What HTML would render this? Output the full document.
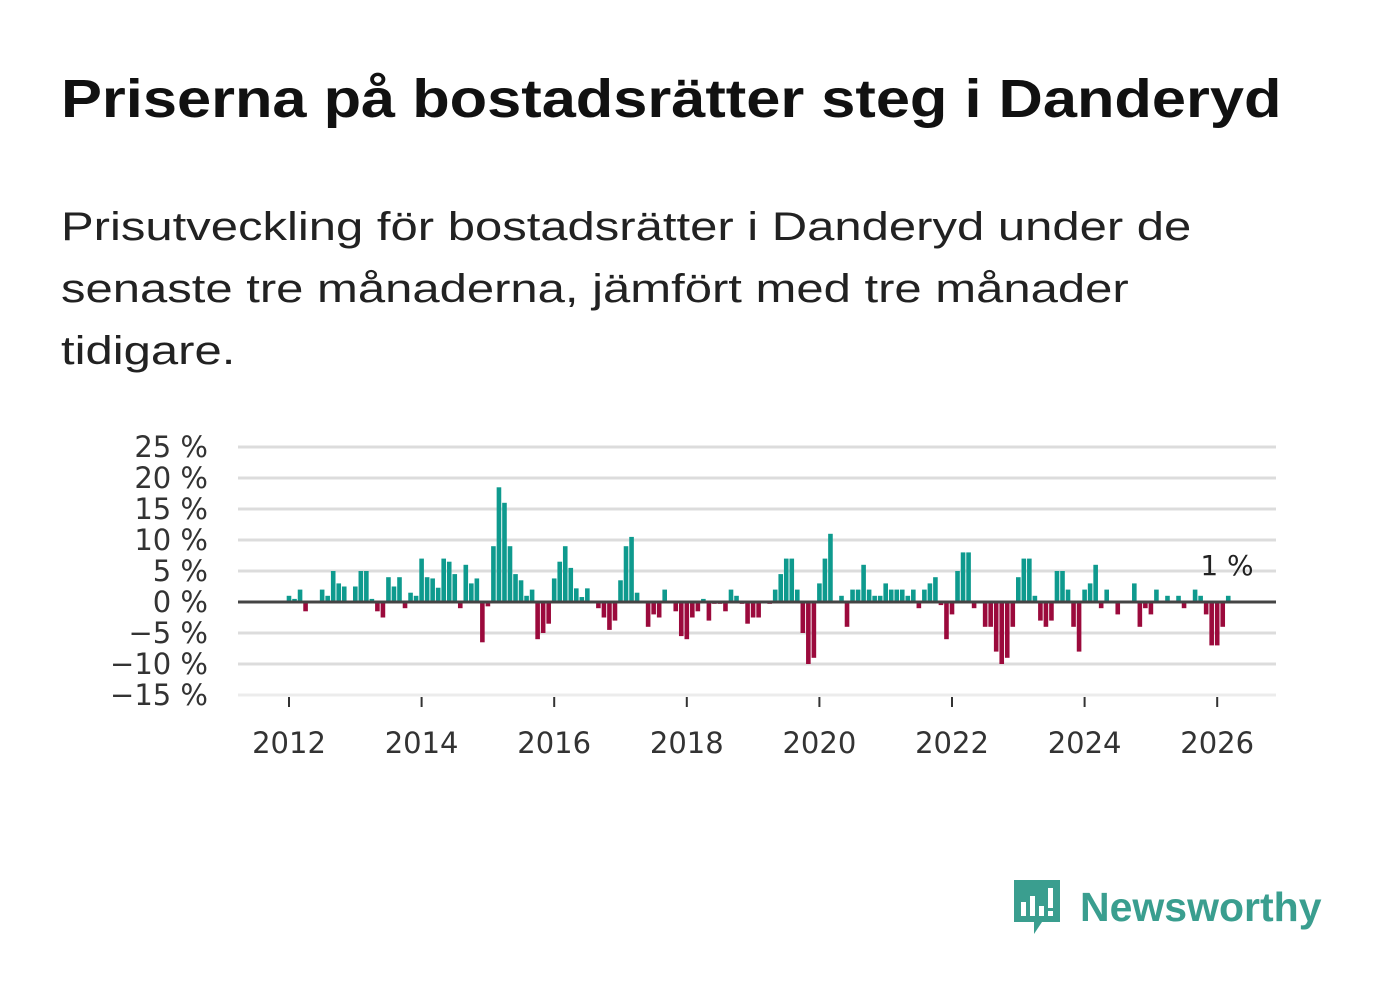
<!DOCTYPE html>
<html><head><meta charset="utf-8"><style>
body{margin:0;width:1382px;height:999px;background:#fff;font-family:"Liberation Sans",sans-serif;overflow:hidden;position:relative}
h1{position:absolute;left:61px;top:68px;margin:0;font-size:54px;font-weight:bold;color:#111;white-space:nowrap;transform:scaleX(1.136);transform-origin:left top}
p{position:absolute;left:61px;top:196px;margin:0;font-size:40px;line-height:62px;color:#222;white-space:nowrap;transform:scaleX(1.225);transform-origin:left top}
</style></head><body>
<h1>Priserna på bostadsrätter steg i Danderyd</h1>
<p>Prisutveckling för bostadsrätter i Danderyd under de<br>senaste tre månaderna, jämfört med tre månader<br>tidigare.</p>
<svg id="chart" width="1382" height="999" style="position:absolute;left:0;top:0"></svg>
<div style="position:absolute;left:1012px;top:878px;height:58px;display:flex;align-items:center">
<svg width="50" height="58"><path d="M2 2h46v42H30l-8 12v-12H2z" fill="#3a9e8f"/><rect x="9" y="24" width="5" height="14" fill="#fff"/><rect x="18" y="18" width="5" height="20" fill="#fff"/><rect x="27" y="28" width="5" height="10" fill="#fff"/><rect x="36" y="10" width="5" height="20" fill="#fff"/><rect x="36" y="33" width="5" height="5" fill="#fff"/></svg>
<span style="font-size:41px;font-weight:bold;color:#3a9e8f;margin-left:18px">Newsworthy</span></div>
<script>
const values=[1,0.5,2,-1.5,0,0,2,1,5,3,2.5,0,2.5,5,5,0.5,-1.5,-2.5,4,2.5,4,-1,1.5,1,7,4,3.8,2.3,7,6.5,4.5,-1,6,3,3.8,-6.5,-0.7,9,18.5,16,9,4.5,3.5,1,2,-6,-5,-3.5,3.8,6.5,9,5.5,2.2,0.8,2.2,0,-1,-2.5,-4.5,-3,3.5,9,10.5,1.5,0,-4,-2,-2.5,2,0,-1.5,-5.5,-6,-2.5,-1.5,0.5,-3,-0.3,-0.3,-1.5,2,1,-0.3,-3.5,-2.5,-2.5,0,-0.3,2,4.5,7,7,2,-5,-10,-9,3,7,11,0,1,-4,2,2,6,2,1,1,3,2,2,2,1,2,-1,2,3,4,-0.5,-6,-2,5,8,8,-1,0,-4,-4,-8,-10,-9,-4,4,7,7,1,-3,-4,-3,5,5,2,-4,-8,2,3,6,-1,2,0,-2,0,0,3,-4,-1,-2,2,0,1,0,1,-1,0,2,1,-2,-7,-7,-4,1];
const startYear=2012;
const yTicks=[25,20,15,10,5,0,-5,-10,-15];
const xTicks=[2012,2014,2016,2018,2020,2022,2024,2026];
const lastLabel="1 %";
const svg=document.getElementById('chart');const NS='http://www.w3.org/2000/svg';
const X=t=>289+(t-2012)*66.3, Y=v=>602-v*6.2;
function mk(tag,a){const e=document.createElementNS(NS,tag);for(const k in a)e.setAttribute(k,a[k]);svg.appendChild(e);return e;}
const FF='DejaVu Sans, sans-serif';
yTicks.forEach(v=>{const g=mk('line',{x1:238,x2:1276,y1:Y(v),y2:Y(v),stroke:v===-15?'#ececec':'#dcdcdc','stroke-width':3});


const t=mk('text',{x:208,y:Y(v)+10,'text-anchor':'end','font-size':29,fill:'#333','font-family':FF});t.textContent=(v<0?'\u2212'+(-v):v)+' %';

});
xTicks.forEach(y=>{const l=mk('line',{x1:X(y),x2:X(y),y1:697,y2:707,stroke:'#333','stroke-width':2});


const t=mk('text',{x:X(y),y:753,'text-anchor':'middle','font-size':29,fill:'#333','font-family':FF});t.textContent=y;

});
values.forEach((v,i)=>{const x=X(startYear+i/12);const r=mk('rect',{x:x-2.3,width:4.6,y:Math.min(Y(v),Y(0)),height:Math.abs(Y(v)-Y(0)),fill:v>=0?'#0e9a8e':'#9b0a3c'});

});
const z=mk('line',{x1:238,x2:1276,y1:Y(0),y2:Y(0),stroke:'#444','stroke-width':3});


const lt=mk('text',{x:1227,y:575,'text-anchor':'middle','font-size':28,fill:'#222','font-family':FF});lt.textContent=lastLabel;


</script>
</body></html>
